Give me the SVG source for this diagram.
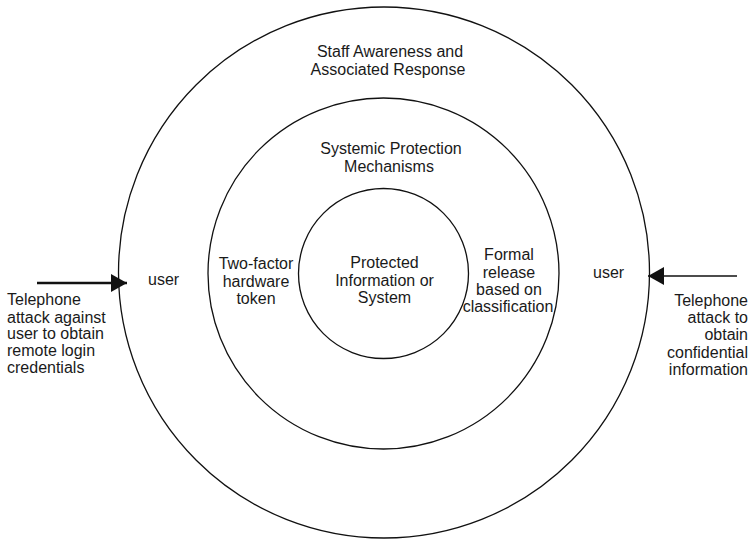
<svg xmlns="http://www.w3.org/2000/svg" width="751" height="539" viewBox="0 0 751 539">
  <style>
    .ring { fill: none; stroke: #111; stroke-width: 1.3; }
    text { font-family: "Liberation Sans", Arial, sans-serif; font-size: 16px; fill: #1a1a1a; }
    .c { text-anchor: middle; }
    .r { text-anchor: end; }
    .wire { stroke: #111; fill: none; }
  </style>
  <defs>
    <marker id="head" viewBox="0 0 16 18" refX="16" refY="9" markerWidth="16" markerHeight="18" markerUnits="userSpaceOnUse" orient="auto">
      <path d="M0,0 L16,9 L0,18 Z" fill="#111"/>
    </marker>
  </defs>

  <rect width="751" height="539" fill="#fff"/>

  <g id="outer-ring">
    <circle class="ring" cx="384" cy="272.5" r="265.5"/>
    <text class="c" x="390" y="57">Staff Awareness and</text>
    <text class="c" x="388" y="75">Associated Response</text>
    <text x="148" y="285">user</text>
    <text x="593" y="278">user</text>
  </g>

  <g id="middle-ring">
    <circle class="ring" cx="383.5" cy="273.5" r="175.5"/>
    <text class="c" x="391" y="154">Systemic Protection</text>
    <text class="c" x="389" y="172">Mechanisms</text>
    <text class="c" x="256" y="269">Two-factor</text>
    <text class="c" x="256" y="287">hardware</text>
    <text class="c" x="256" y="304">token</text>
    <text class="c" x="509" y="260">Formal</text>
    <text class="c" x="509" y="278">release</text>
    <text class="c" x="509" y="295">based on</text>
    <text class="c" x="508" y="312">classification</text>
  </g>

  <g id="core">
    <circle class="ring" cx="383.5" cy="273.5" r="85"/>
    <text class="c" x="384.5" y="268">Protected</text>
    <text class="c" x="384.5" y="286">Information or</text>
    <text class="c" x="384.5" y="303">System</text>
  </g>

  <g id="attack-left">
    <text x="7" y="305">Telephone</text>
    <text x="7" y="322.5">attack against</text>
    <text x="7" y="339">user to obtain</text>
    <text x="7" y="355.5">remote login</text>
    <text x="7" y="373">credentials</text>
  </g>

  <g id="attack-right">
    <text class="r" x="748" y="306">Telephone</text>
    <text class="r" x="748" y="323">attack to</text>
    <text class="r" x="748" y="340">obtain</text>
    <text class="r" x="748" y="357.5">confidential</text>
    <text class="r" x="748" y="375">information</text>
  </g>

  <g id="connectors">
    <line class="wire" x1="37" y1="283" x2="127" y2="283" stroke-width="2.5" marker-end="url(#head)"/>
    <line class="wire" x1="737" y1="276" x2="648" y2="276" stroke-width="1.5" marker-end="url(#head)"/>
  </g>
</svg>
